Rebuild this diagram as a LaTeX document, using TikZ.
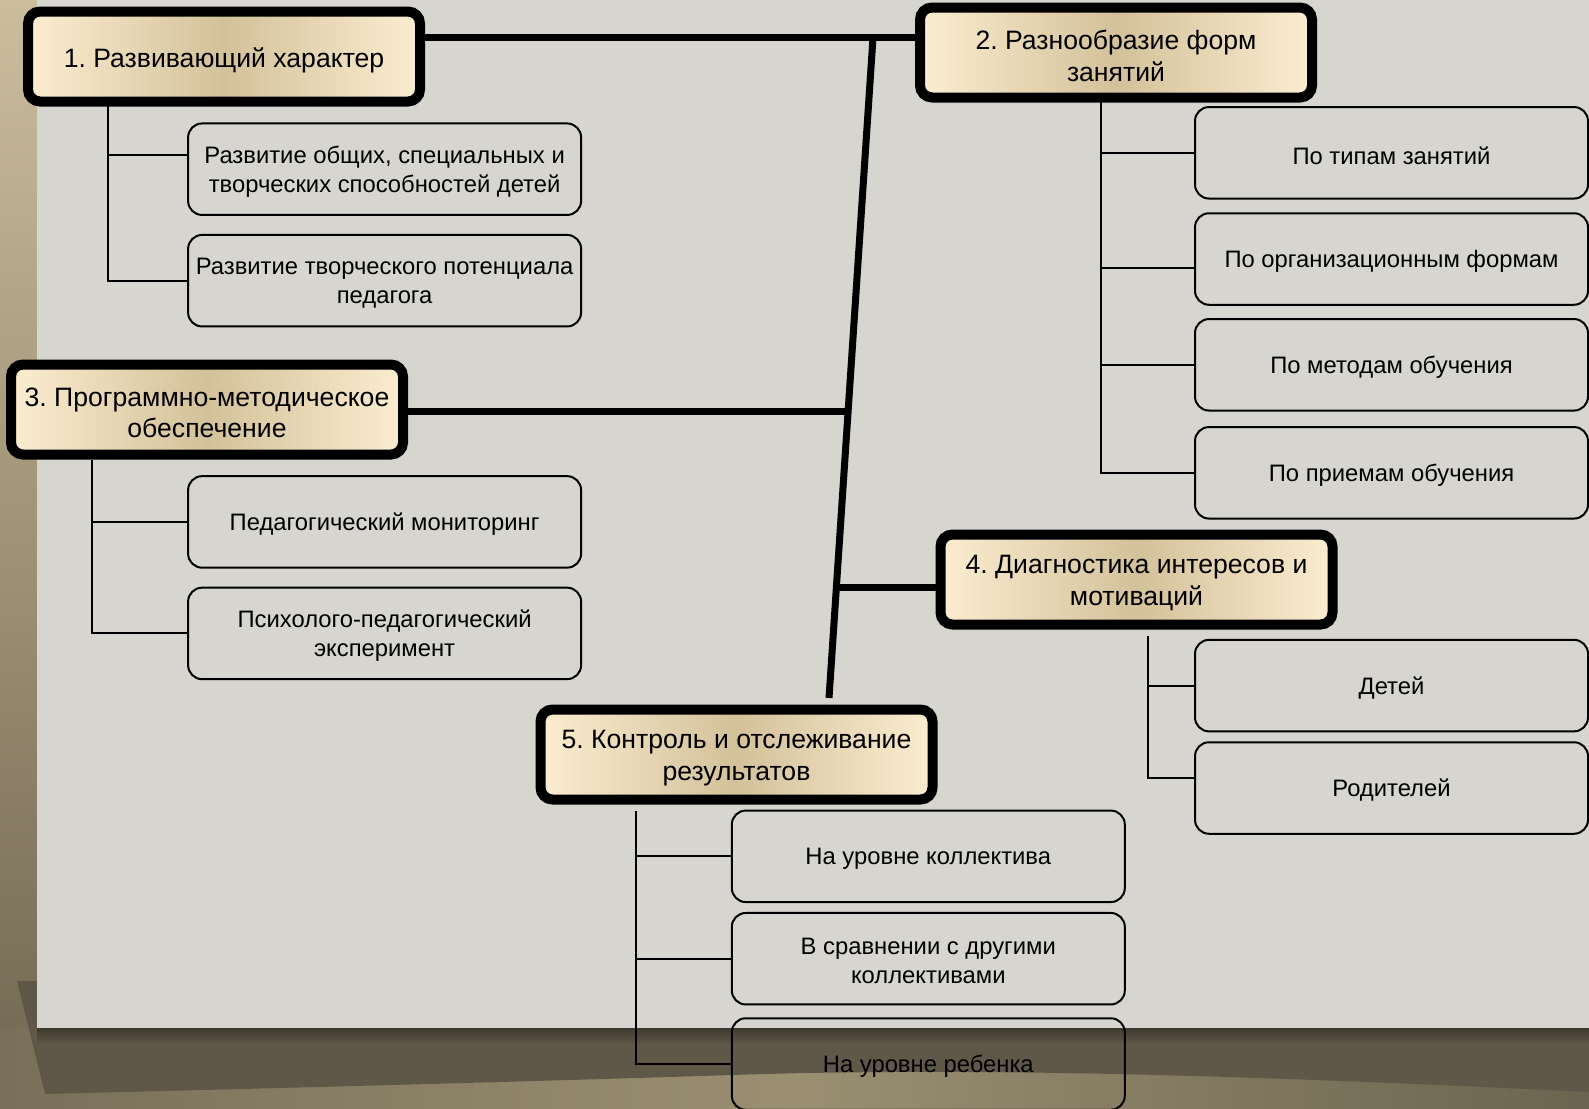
\documentclass[tikz,border=0pt]{standalone}
\usepackage{fontspec}
\setmainfont{Liberation Sans}
\usetikzlibrary{calc}
\frenchspacing

\definecolor{paper}{RGB}{214,213,208}
\definecolor{cream}{RGB}{251,237,208}
\definecolor{wheat}{RGB}{211,193,154}
\definecolor{striptop}{RGB}{203,189,156}
\definecolor{stripbot}{RGB}{112,102,80}
\definecolor{floorl}{RGB}{122,112,90}
\definecolor{floorm}{RGB}{154,143,113}
\definecolor{floorr}{RGB}{108,100,80}
\definecolor{shadowdark}{RGB}{62,57,46}
\definecolor{shadowmid}{RGB}{95,88,72}

\begin{document}
\begin{tikzpicture}[x=0.5pt,y=0.5pt,yscale=-1,xscale=1,
  mainbox/.style={draw, line width=5pt, rounded corners=6pt, outer sep=0pt, inner sep=0pt,
    left color=cream, right color=cream, middle color=wheat,
    minimum width=196pt, minimum height=45pt},
  maintext/.style={inner sep=0pt, align=center, font=\fontsize{13.3}{15.7}\selectfont},
  subbox/.style={draw, line width=1pt, rounded corners=7pt, outer sep=0pt, inner sep=0pt,
    minimum width=196.5pt, minimum height=45.75pt},
  subtext/.style={inner sep=0pt, align=center, font=\fontsize{11.9}{14.7}\selectfont},
  spine/.style={line width=3.5pt},
  twig/.style={line width=1pt}]
\useasboundingbox (0,0) rectangle (1589,1108);

% Background
\shade[top color=striptop, bottom color=stripbot] (0,0) rectangle (37,1108);
\shade[left color=floorl, right color=floorr, middle color=floorm] (0,1028) rectangle (1589,1108);
\fill[shadowmid] (17,981) -- (1589,981) -- (1589,1092) .. controls (1300,1078) and (1000,1066) .. (732,1075) .. controls (450,1084) and (200,1090) .. (45,1094) -- cycle;
\shade[top color=shadowdark, bottom color=shadowmid] (37,1028) rectangle (1589,1044);
\fill[paper] (37,0) rectangle (1589,1028);

% Main boxes
\node[mainbox] (m1) at (224,56.5) {};
\node[mainbox] (m2) at (1116,52.5) {};
\node[mainbox] (m3) at (207,409.5) {};
\node[mainbox] (m4) at (1136.5,579.5) {};
\node[mainbox] (m5) at (736.5,754.5) {};
% Text Node
\node[maintext] (t1) at ($(m1)+(0,3.5)$) {1. Развивающий характер};
\node[maintext] (t2) at ($(m2)+(0,3.5)$) {2. Разнообразие форм\\занятий};
\node[maintext] (t3) at ($(m3)+(0,3.5)$) {3. Программно-методическое\\обеспечение};
\node[maintext] (t4) at ($(m4)+(0,3.5)$) {4. Диагностика интересов и\\мотиваций};
\node[maintext] (t5) at ($(m5)+(0,3.5)$) {5. Контроль и отслеживание\\результатов};

% Sub boxes
\node[subbox] (s11) at (384.6,169.2) {};
\node[subbox] (s12) at (384.6,280.7) {};
\node[subbox] (s31) at (384.6,521.9) {};
\node[subbox] (s32) at (384.6,633.4) {};
\node[subbox] (s21) at (1391.5,152.8) {};
\node[subbox] (s22) at (1391.5,259) {};
\node[subbox] (s23) at (1391.5,364.8) {};
\node[subbox] (s24) at (1391.5,472.8) {};
\node[subbox] (s41) at (1391.5,685.6) {};
\node[subbox] (s42) at (1391.5,788) {};
\node[subbox] (s51) at (928.3,856.3) {};
\node[subbox] (s52) at (928.3,958.7) {};
\node[subbox] (s53) at (928.3,1064) {};
% Text Node
\node[subtext] (u11) at ($(s11)+(0,2.5)$) {Развитие общих, специальных и\\творческих способностей детей};
\node[subtext] (u12) at ($(s12)+(0,2.5)$) {Развитие творческого потенциала\\педагога};
\node[subtext] (u31) at ($(s31)+(0,2.5)$) {Педагогический мониторинг};
\node[subtext] (u32) at ($(s32)+(0,2.5)$) {Психолого-педагогический\\эксперимент};
\node[subtext] (u21) at ($(s21)+(0,2.5)$) {По типам занятий};
\node[subtext] (u22) at ($(s22)+(0,2.5)$) {По организационным формам};
\node[subtext] (u23) at ($(s23)+(0,2.5)$) {По методам обучения};
\node[subtext] (u24) at ($(s24)+(0,2.5)$) {По приемам обучения};
\node[subtext] (u41) at ($(s41)+(0,2.5)$) {Детей};
\node[subtext] (u42) at ($(s42)+(0,2.5)$) {Родителей};
\node[subtext] (u51) at ($(s51)+(0,2.5)$) {На уровне коллектива};
\node[subtext] (u52) at ($(s52)+(0,2.5)$) {В сравнении с другими\\коллективами};
\node[subtext] (u53) at ($(s53)+(0,2.5)$) {На уровне ребенка};

% Straight Lines
\coordinate (top) at (873,37.5);
\coordinate (bot) at (829,698);
\coordinate (j3) at (847,411);
\coordinate (j4) at (839,587);
\draw[spine] (m1.east |- top) -- (m2.west |- top);
\draw[spine] (top) -- (bot);
\draw[spine] (m3.east |- j3) -- (j3);
\draw[spine] (j4) -- (m4.west |- j4);

% Tree lines
\coordinate (k1) at (108.4,155);
\draw[twig] (m1.south -| k1) |- (s12.west);
\draw[twig] (k1) -- (s11.west |- k1);

\coordinate (k2) at (1100.5,267.5);
\draw[twig] (m2.south -| k2) |- (s24.west);
\draw[twig] (k2 |- s21.west) -- (s21.west);
\draw[twig] (k2) -- (s22.west |- k2);
\draw[twig] (k2 |- s23.west) -- (s23.west);

\coordinate (k3) at (92.2,460);
\draw[twig] (k3) |- (s32.west);
\draw[twig] (k3 |- s31.west) -- (s31.west);

\coordinate (k4) at (1148,636);
\coordinate (k4b) at (1148,778);
\draw[twig] (k4) -- (k4b) -- (s42.west |- k4b);
\draw[twig] (k4 |- s41.west) -- (s41.west);

\coordinate (k5) at (636.4,811);
\draw[twig] (k5) |- (s53.west);
\draw[twig] (k5 |- s51.west) -- (s51.west);
\draw[twig] (k5 |- s52.west) -- (s52.west);

\end{tikzpicture}
\end{document}
